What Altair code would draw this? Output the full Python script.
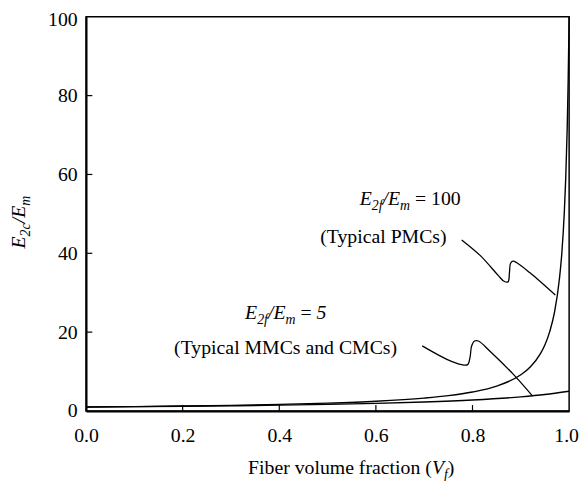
import altair as alt
import pandas as pd

# ---------------- data ----------------
vf_100 = [0.0, 0.1, 0.2, 0.3, 0.4, 0.5, 0.6, 0.7, 0.75, 0.8, 0.85, 0.9, 0.92, 0.94,
          0.95, 0.96, 0.97, 0.98, 0.985, 0.99, 0.993, 0.996, 0.998, 1.0]
e_100 = [1.0, 1.11, 1.25, 1.42, 1.66, 1.98, 2.46, 3.26, 3.88, 4.81, 6.31, 9.17, 11.2, 14.4,
         16.8, 20.2, 25.2, 33.6, 40.2, 50.3, 59.1, 71.6, 83.5, 100.0]
vf_5 = [0.0, 0.1, 0.2, 0.3, 0.4, 0.5, 0.6, 0.7, 0.8, 0.9, 0.95, 1.0]
e_5 = [1.0, 1.09, 1.19, 1.32, 1.47, 1.67, 1.92, 2.27, 2.78, 3.57, 4.17, 5.0]

x_tick_values = [0.0, 0.2, 0.4, 0.6, 0.8, 1.0]
y_tick_values = [0, 20, 40, 60, 80, 100]
x_inner_ticks = [0.2, 0.4, 0.6, 0.8]
y_inner_ticks = [20, 40, 60, 80]

# leader lines (data coordinates)
lead_upper_x = [0.7776, 0.8163, 0.8531, 0.8653, 0.8735, 0.8765, 0.8786, 0.8837, 0.8918, 0.9184, 0.9714]
lead_upper_y = [43.4, 39.4, 34.4, 32.9, 32.75, 35.1, 37.4, 38.0, 37.6, 35.1, 29.4]
lead_lower_x = [0.6959, 0.7469, 0.7776, 0.7898, 0.7949, 0.7980, 0.8041, 0.8122, 0.8367, 0.8837, 0.9245]
lead_lower_y = [16.5, 13.1, 11.75, 11.75, 13.6, 16.4, 17.75, 17.75, 15.1, 9.4, 3.75]

FONT = "Liberation Serif, DejaVu Serif, serif"
W, H = 489, 399
PAD_L, PAD_T = 79, 6


def px2x(px):
    return (px - 8 - PAD_L) / W


def px2y(py):
    return (8 + PAD_T + H - py) / (H / 100)


REG = {' ': 250, '(': 333, ')': 333, '=': 564, '0': 500, '1': 500, '5': 500, 'F': 556,
       'i': 278, 'b': 500, 'e': 444, 'r': 333, 'v': 500, 'o': 500, 'l': 278, 'u': 500,
       'm': 778, 'f': 333, 'a': 444, 'c': 444, 't': 278, 'n': 500}
ITA = {'E': 611, '2': 500, 'f': 278, 'c': 444, 'm': 722, '/': 278, 'V': 611, '5': 500,
       ' ': 250, '=': 675}


def layout(pieces, x0, y0, rotated=False):
    rows = []
    adv = 0.0
    for text, italic, size, sub in pieces:
        table = ITA if italic else REG
        shift = 5 if sub else 0
        if text.strip():
            if rotated:
                px, py = x0 + shift, y0 - adv
            else:
                px, py = x0 + adv, y0 + shift
            rows.append(dict(t=text, x=px2x(px), y=px2y(py), s=size, it=italic, rot=rotated))
        adv += sum(table.get(c, 500) for c in text) * size / 1000
    return rows


BIG, SUB = 20, 14
rows = []
rows += layout([("E", True, BIG, False), ("2f", True, SUB, True), ("/E", True, BIG, False),
                ("m", True, SUB, True), (" ", False, BIG, False), ("=", False, BIG, False),
                (" ", False, BIG, False), ("100", False, BIG, False)], 364, 205)
rows += layout([("E", True, BIG, False), ("2f", True, SUB, True), ("/E", True, BIG, False),
                ("m", True, SUB, True), (" ", False, BIG, False), ("=", False, BIG, False),
                (" ", False, BIG, False), ("5", True, BIG, False)], 248, 320)
rows += layout([("Fiber volume fraction (", False, BIG, False), ("V", True, BIG, False),
                ("f", True, SUB, True), (")", False, BIG, False)], 251, 477)
rows += layout([("E", True, BIG, False), ("2c", True, SUB, True), ("/E", True, BIG, False),
                ("m", True, SUB, True)], 25, 248.5, rotated=True)
pieces = pd.DataFrame(rows)

center_lines = pd.DataFrame({
    "t": ["(Typical PMCs)", "(Typical MMCs and CMCs)"],
    "x": [px2x(388), px2x(289)],
    "y": [px2y(243), px2y(355)],
})

curves = pd.concat([
    pd.DataFrame({"vf": vf_100, "e": e_100, "series": "100"}),
    pd.DataFrame({"vf": vf_5, "e": e_5, "series": "5"}),
])
leaders = pd.concat([
    pd.DataFrame({"x": lead_upper_x, "y": lead_upper_y, "k": "u", "i": range(len(lead_upper_x))}),
    pd.DataFrame({"x": lead_lower_x, "y": lead_lower_y, "k": "l", "i": range(len(lead_lower_x))}),
])

xs = alt.Scale(domain=[0, 1], nice=False)
ys = alt.Scale(domain=[0, 100], nice=False)

x_axis = alt.Axis(values=x_tick_values, format=".1f", title=None, labelPadding=15,
                  labelOffset=alt.condition("datum.value == 1", alt.value(-3), alt.value(0)))
y_axis = alt.Axis(values=y_tick_values, title=None, labelPadding=9,
                  labelOffset=alt.condition("datum.value == 100", alt.value(3), alt.value(0)))

base_curve = alt.Chart(curves).mark_line(color="black", strokeWidth=1.4, interpolate="monotone").encode(
    x=alt.X("vf:Q", scale=xs, axis=x_axis),
    y=alt.Y("e:Q", scale=ys, axis=y_axis),
    detail="series:N",
)

xt = alt.Chart(pd.DataFrame({"v": x_inner_ticks})).mark_rule(color="black", strokeWidth=1.2).encode(
    x=alt.X("v:Q", scale=xs), y=alt.datum(0), y2=alt.datum(1.5))
yt = alt.Chart(pd.DataFrame({"v": y_inner_ticks})).mark_rule(color="black", strokeWidth=1.2).encode(
    y=alt.Y("v:Q", scale=ys), x=alt.datum(0), x2=alt.datum(0.013))

lead = alt.Chart(leaders).mark_line(color="black", strokeWidth=1.3, interpolate="catmull-rom").encode(
    x=alt.X("x:Q", scale=xs), y=alt.Y("y:Q", scale=ys), detail="k:N", order="i:Q")


def text_layer(df, italic, angle):
    m = alt.Chart(df).mark_text(font=FONT, align="left", baseline="alphabetic", color="black",
                                fontStyle="italic" if italic else "normal", angle=angle)
    return m.encode(x=alt.X("x:Q", scale=xs), y=alt.Y("y:Q", scale=ys), text="t:N",
                    size=alt.Size("s:Q", scale=None, legend=None))


t1 = text_layer(pieces[(pieces.it) & (~pieces.rot)], True, 0)
t2 = text_layer(pieces[(~pieces.it) & (~pieces.rot)], False, 0)
t3 = text_layer(pieces[pieces.rot], True, 270)
t4 = alt.Chart(center_lines).mark_text(font=FONT, fontSize=20, align="center", baseline="alphabetic",
                                       color="black").encode(
    x=alt.X("x:Q", scale=xs), y=alt.Y("y:Q", scale=ys), text="t:N")

chart = alt.layer(base_curve, xt, yt, lead, t1, t2, t3, t4).properties(
    width=W, height=H,
    background="white",
    autosize=alt.AutoSizeParams(type="none"),
    padding={"left": PAD_L, "top": PAD_T, "right": 10, "bottom": 68},
).configure_view(
    stroke="black", strokeWidth=1.5
).configure_axis(
    grid=False, ticks=False, tickSize=0, labelFont=FONT, labelFontSize=20, labelColor="black",
    domainColor="black", domainWidth=2, labelFlush=False, labelOverlap=False
)

chart.save("out.html", embed_options={"renderer": "svg", "actions": False})
